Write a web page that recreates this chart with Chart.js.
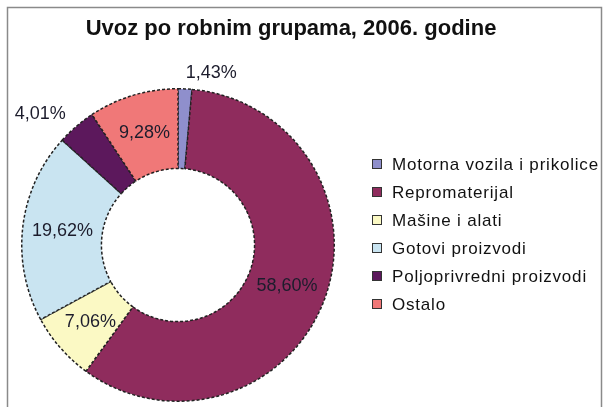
<!DOCTYPE html>
<html>
<head>
<meta charset="utf-8">
<script src="https://cdn.jsdelivr.net/npm/chart.js@4/dist/chart.umd.min.js"></script>
<style>
  html, body { margin: 0; padding: 0; background: #fff; }
  #wrap { width: 606px; height: 407px; }
</style>
</head>
<body>
<div id="wrap"><canvas id="chart" width="606" height="407"></canvas></div>
<script>
const naslov = 'Uvoz po robnim grupama, 2006. godine';
const kategorije = [
  'Motorna vozila i prikolice',
  'Repromaterijal',
  'Mašine i alati',
  'Gotovi proizvodi',
  'Poljoprivredni proizvodi',
  'Ostalo'
];
const udeli = [1.43, 58.60, 7.06, 19.62, 4.01, 9.28];
const boje = ['#8f8fcc', '#8f2c5d', '#fbf9c4', '#c9e4f1', '#5c185c', '#f07878'];
// koje oznake idu van prstena
const spolja = [true, false, false, false, true, false];

const fmt = v => v.toFixed(2).replace('.', ',') + '%';

const crtanje = {
  id: 'crtanje',
  beforeDraw(chart) {
    const ctx = chart.ctx;
    ctx.save();
    ctx.strokeStyle = '#8a8a8a';
    ctx.lineWidth = 1.5;
    ctx.strokeRect(7.5, 7.5, 594, 420);
    ctx.restore();
  },
  afterDraw(chart) {
    const ctx = chart.ctx;
    const arcs = chart.getDatasetMeta(0).data;
    ctx.save();

    // naslov
    ctx.fillStyle = '#111';
    ctx.font = 'bold 22px "Liberation Sans", Arial, sans-serif';
    ctx.textAlign = 'center';
    ctx.textBaseline = 'alphabetic';
    ctx.fillText(naslov, 291, 35);

    // procenti
    ctx.font = '18px "Liberation Sans", Arial, sans-serif';
    ctx.fillStyle = '#1c1c2c';
    ctx.textBaseline = 'middle';
    arcs.forEach((arc, i) => {
      const { startAngle, endAngle, outerRadius, x, y } = arc.getProps(['startAngle', 'endAngle', 'outerRadius', 'x', 'y'], true);
      const mid = (startAngle + endAngle) / 2;
      if (spolja[i]) {
        const r = outerRadius + 16;
        const px = x + Math.cos(mid) * r;
        const py = y + Math.sin(mid) * r;
        ctx.textAlign = Math.cos(mid) >= 0 ? 'left' : 'right';
        ctx.fillText(fmt(udeli[i]), px, py);
      } else {
        const p = arc.tooltipPosition(true);
        ctx.textAlign = 'center';
        ctx.fillText(fmt(udeli[i]), p.x, p.y);
      }
    });

    // legenda
    ctx.font = '17px "Liberation Sans", Arial, sans-serif';
    ctx.letterSpacing = '0.8px';
    ctx.textAlign = 'left';
    ctx.textBaseline = 'middle';
    kategorije.forEach((k, i) => {
      const yy = 164 + i * 28;
      ctx.fillStyle = boje[i];
      ctx.fillRect(372, yy - 5, 10, 10);
      ctx.strokeStyle = '#333';
      ctx.lineWidth = 1;
      ctx.strokeRect(372.5, yy - 4.5, 9, 9);
      ctx.fillStyle = '#111';
      ctx.fillText(k, 392, yy + 1);
    });
    ctx.restore();
  }
};

new Chart(document.getElementById('chart'), {
  type: 'doughnut',
  data: {
    labels: kategorije,
    datasets: [{
      data: udeli,
      backgroundColor: boje,
      borderColor: '#222',
      borderWidth: 1.5,
      borderDash: [3, 2]
    }]
  },
  options: {
    responsive: false,
    animation: false,
    cutout: '49%',
    layout: { padding: { left: 21, top: 88, right: 271, bottom: 5 } },
    plugins: {
      legend: { display: false },
      title: { display: false },
      tooltip: { enabled: false }
    }
  },
  plugins: [crtanje]
});
</script>
</body>
</html>
